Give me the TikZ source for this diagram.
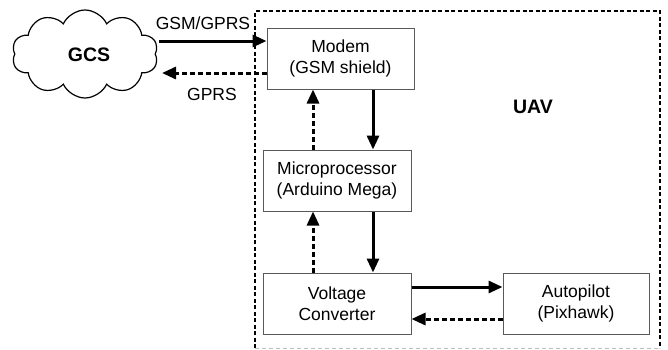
\documentclass[tikz,border=0pt]{standalone}
\usepackage{fontspec}
\setmainfont{Liberation Sans}
\usetikzlibrary{shapes.symbols,arrows.meta}
\tikzset{
  blk/.style={draw=black!65, line width=1pt, minimum width=147pt, minimum height=61pt, inner sep=0pt, align=center, font=\fontsize{17.5}{20.5}\selectfont},
  solidarr/.style={line width=3pt, -{Triangle[length=14pt,width=12pt]}},
  dasharr/.style={line width=3pt, dash pattern=on 5pt off 3pt, -{Triangle[length=14pt,width=12pt]}},
  lbl/.style={font=\fontsize{17.5}{20}\selectfont, inner sep=0pt},
  big/.style={font=\fontsize{19.5}{22}\selectfont\bfseries, inner sep=0pt},
  uavline/.style={line width=2.8pt, dash pattern=on 4pt off 2.5pt},
}
\begin{document}
\begin{tikzpicture}[x=1pt,y=-1pt]
\useasboundingbox (0,0) rectangle (668,349);
% UAV boundary
\draw[uavline] (255,348) -- (255,11) -- (660,11) -- (660,348);
\draw[black!25, line width=0.8pt, dash pattern=on 4pt off 3pt] (255,348) -- (660,348);
% cloud
\node[cloud, draw, line width=1.2pt, cloud puffs=10, cloud puff arc=130, aspect=1.7, minimum width=146pt, minimum height=88pt, inner sep=0pt] (gcs) at (85,54) {};
\node[big] (gcst) at (89,55) {GCS};
% blocks
\node[blk] (modem) at (340.5,58.5) {Modem\\(GSM shield)};
\node[blk, minimum width=148pt] (micro) at (337,180.5) {Microprocessor\\(Arduino Mega)};
\node[blk, minimum width=148pt] (volt) at (337,303.5) {Voltage\\Converter};
\node[blk, minimum width=146pt] (auto) at (576,303.5) {Autopilot\\(Pixhawk)};
\node[big] (uav) at (533,107) {UAV};
% helper coordinates
\coordinate (up) at (313,0);
\coordinate (dn) at (373,0);
\coordinate (gs) at (159,41);
\coordinate (gp) at (162,73);
\coordinate (r1) at (0,287);
\coordinate (r2) at (0,319);
% connectors
\draw[solidarr] (gs) -- (modem.west |- gs);
\draw[dasharr] (modem.west |- gp) -- (gp);
\node[lbl] (l1) at (203,23) {GSM/GPRS};
\node[lbl] (l2) at (212,94) {GPRS};
\draw[dasharr] (micro.north -| up) -- (modem.south -| up);
\draw[solidarr] (modem.south -| dn) -- (micro.north -| dn);
\draw[dasharr] (volt.north -| up) -- (micro.south -| up);
\draw[solidarr] (micro.south -| dn) -- (volt.north -| dn);
\draw[solidarr] (volt.east |- r1) -- (auto.west |- r1);
\draw[dasharr] (auto.west |- r2) -- (volt.east |- r2);
\end{tikzpicture}
\end{document}
